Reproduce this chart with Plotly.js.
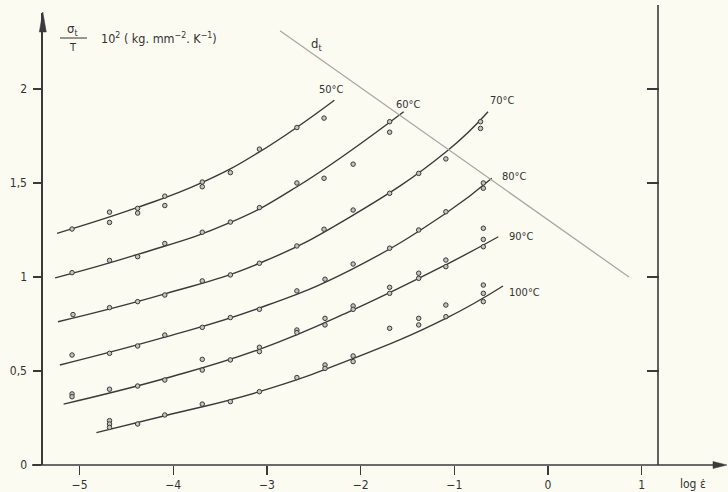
<!DOCTYPE html>
<html>
<head>
<meta charset="utf-8">
<script src="https://cdn.plot.ly/plotly-3.0.1.min.js"></script>
<style>
html,body{margin:0;padding:0;background:#fbfbf1;}
#chart{width:728px;height:492px;}
</style>
</head>
<body>
<div id="chart"></div>
<script>
// measured points (log strain rate, sigma_t/T *100)
const t50x = [-5.08,-4.68,-4.68,-4.38,-4.38,-4.09,-4.09,-3.69,-3.69,-3.39,-3.08,-2.68,-2.39];
const t50y = [1.255,1.345,1.29,1.365,1.34,1.43,1.38,1.505,1.48,1.555,1.68,1.795,1.845];
const t60x = [-5.08,-4.68,-4.38,-4.09,-3.69,-3.39,-3.08,-2.68,-2.39,-2.08,-1.69,-1.69];
const t60y = [1.023,1.088,1.108,1.178,1.238,1.292,1.369,1.50,1.525,1.60,1.826,1.77];
const t70x = [-5.07,-4.68,-4.38,-4.09,-3.69,-3.39,-3.08,-2.68,-2.39,-2.08,-1.69,-1.38,-1.09,-0.72,-0.72];
const t70y = [0.80,0.837,0.869,0.904,0.979,1.011,1.073,1.165,1.254,1.356,1.445,1.551,1.628,1.826,1.79];
const t80x = [-5.08,-4.68,-4.38,-4.09,-3.69,-3.39,-3.08,-2.68,-2.38,-2.08,-1.69,-1.38,-1.09,-0.69,-0.69];
const t80y = [0.585,0.594,0.633,0.691,0.732,0.784,0.828,0.926,0.988,1.069,1.153,1.25,1.347,1.472,1.50];
const t90x = [-5.08,-5.08,-4.68,-4.38,-4.09,-3.69,-3.69,-3.39,-3.08,-3.08,-2.68,-2.68,-2.38,-2.38,-2.08,-2.08,-1.69,-1.69,-1.38,-1.38,-1.09,-1.09,-0.69,-0.69,-0.69];
const t90y = [0.378,0.363,0.403,0.42,0.452,0.562,0.505,0.559,0.626,0.603,0.718,0.704,0.78,0.745,0.846,0.828,0.945,0.913,1.02,0.993,1.09,1.055,1.259,1.20,1.161];
const t100x = [-4.68,-4.68,-4.68,-4.38,-4.09,-3.69,-3.39,-3.08,-2.68,-2.38,-2.38,-2.08,-2.08,-1.69,-1.38,-1.38,-1.09,-1.09,-0.69,-0.69,-0.69];
const t100y = [0.236,0.218,0.20,0.218,0.266,0.324,0.337,0.39,0.465,0.532,0.514,0.58,0.55,0.727,0.78,0.745,0.851,0.789,0.957,0.913,0.869];

// fitted curves as drawn
const c50x = [-5.24,-4.38,-3.70,-3.08,-2.28];
const c50y = [1.232,1.37,1.50,1.665,1.94];
const c60x = [-5.26,-4.38,-3.39,-2.68,-1.54];
const c60y = [0.995,1.12,1.29,1.48,1.879];
const c70x = [-5.23,-4.09,-3.08,-2.11,-1.09,-0.64];
const c70y = [0.762,0.91,1.073,1.32,1.665,1.879];
const c80x = [-5.21,-4.09,-3.08,-2.11,-1.09,-0.60];
const c80y = [0.532,0.68,0.835,1.037,1.339,1.525];
const c90x = [-5.17,-4.09,-3.08,-2.08,-1.09,-0.53];
const c90y = [0.324,0.46,0.615,0.825,1.065,1.214];
const c100x = [-4.82,-4.09,-3.08,-2.11,-1.09,-0.48];
const c100y = [0.172,0.262,0.39,0.56,0.78,0.952];

// d_t limit line
const dtX = [-2.86, 0.864];
const dtY = [2.31, 1.0];

const curveLabels = ['50°C','60°C','70°C','80°C','90°C','100°C'];
const labelX = [-2.465,-1.644,-0.64,-0.512,-0.438,-0.438];
const labelY = [1.995,1.915,1.936,1.537,1.213,0.92];

const xTickVals = [-5,-4,-3,-2,-1,0,1];
const xTickText = ['−5','−4','−3','−2','−1','0','1'];
const yTickVals = [0,0.5,1,1.5,2];
const yTickText = ['0','0,5','1','1,5','2'];

const INK = '#3a3a3a';
const FONT = 'DejaVu Sans Condensed, DejaVu Sans, sans-serif';

const curves = [[c50x,c50y],[c60x,c60y],[c70x,c70y],[c80x,c80y],[c90x,c90y],[c100x,c100y]];
const pts = [[t50x,t50y],[t60x,t60y],[t70x,t70y],[t80x,t80y],[t90x,t90y],[t100x,t100y]];

const traces = [];
curves.forEach((c,i)=>{
  traces.push({x:c[0], y:c[1], mode:'lines', type:'scatter', name:curveLabels[i],
    line:{color:INK, width:1.4, shape:'spline', smoothing:1.3}, hoverinfo:'skip', showlegend:false});
});
pts.forEach((p,i)=>{
  traces.push({x:p[0], y:p[1], mode:'markers', type:'scatter', name:curveLabels[i]+' data',
    marker:{symbol:'circle', size:4.5, color:'#c4c4bc', line:{color:'#3a3a3a', width:1}}, showlegend:false});
});
traces.push({x:dtX, y:dtY, mode:'lines', type:'scatter', name:'d_t',
  line:{color:'#a9a9a3', width:1.3}, showlegend:false, hoverinfo:'skip'});
// invisible trace anchoring right axis
traces.push({x:[0], y:[0], yaxis:'y2', mode:'markers', marker:{opacity:0}, showlegend:false, hoverinfo:'skip'});

// pixel helpers for paper coords (plot area 43..659 x, 13..465 y)
const L=43, R=659, T=13, B=465;
const px = v => (v-L)/(R-L);
const py = v => (B-v)/(B-T);

const annotations = curveLabels.map((t,i)=>({
  x:labelX[i], y:labelY[i], xref:'x', yref:'y', text:t, showarrow:false,
  xanchor:'left', yanchor:'middle', font:{family:FONT, size:11, color:'#333'}
}));
annotations.push({x:-2.55, y:2.234, xref:'x', yref:'y', text:'d<sub>t</sub>', showarrow:false,
  xanchor:'left', yanchor:'middle', font:{family:FONT, size:13, color:'#333'}});
annotations.push({x:px(72.5), y:py(29), xref:'paper', yref:'paper', text:'σ<sub>t</sub>', showarrow:false,
  xanchor:'center', yanchor:'middle', font:{family:FONT, size:13, color:'#333'}});
annotations.push({x:px(73), y:py(48), xref:'paper', yref:'paper', text:'T', showarrow:false,
  xanchor:'center', yanchor:'middle', font:{family:FONT, size:11, color:'#333'}});
annotations.push({x:px(99), y:py(38), xref:'paper', yref:'paper',
  text:'10<sup>2</sup> ( kg. mm<sup>−2</sup>. K<sup>−1</sup>)', showarrow:false,
  xanchor:'left', yanchor:'middle', font:{family:FONT, size:12.5, color:'#333'}});
annotations.push({x:px(678), y:py(484), xref:'paper', yref:'paper', text:'log ε̇', showarrow:false,
  xanchor:'left', yanchor:'middle', font:{family:FONT, size:12, color:'#333'}});

const shapes = [
  // x axis line with arrow
  {type:'line', xref:'paper', yref:'paper', x0:px(32), x1:px(722), y0:0, y1:0, line:{color:INK, width:1.6}},
  {type:'path', xref:'paper', yref:'paper',
   path:`M ${px(727)} ${py(465)} L ${px(713)} ${py(461.5)} L ${px(713)} ${py(468.5)} Z`,
   fillcolor:INK, line:{color:INK, width:0.5}},
  // y axis arrowhead
  {type:'path', xref:'paper', yref:'paper',
   path:`M ${px(42.8)} ${py(12)} L ${px(39.3)} ${py(32)} L ${px(46.3)} ${py(32)} Z`,
   fillcolor:INK, line:{color:INK, width:0.5}},
  // right vertical line
  {type:'line', xref:'paper', yref:'paper', x0:px(658), x1:px(658), y0:0, y1:py(5), line:{color:INK, width:1.6}},
  // fraction bar
  {type:'line', xref:'paper', yref:'paper', x0:px(60), x1:px(87), y0:py(38), y1:py(38), line:{color:'#333', width:1}}
];

const layout = {
  width:728, height:492,
  margin:{l:L, r:728-R, t:T, b:492-B, pad:0},
  paper_bgcolor:'#fbfbf1', plot_bgcolor:'#fbfbf1',
  showlegend:false,
  font:{family:FONT, size:11, color:'#333'},
  xaxis:{range:[-5.39,1.185], showgrid:false, zeroline:false, showline:false,
    tickmode:'array', tickvals:xTickVals, ticktext:xTickText,
    ticks:'outside', ticklen:9, tickwidth:1.3, tickcolor:INK, ticklabelstandoff:0,
    tickfont:{family:FONT, size:12, color:'#333'}},
  yaxis:{range:[0,2.404], showgrid:false, zeroline:false, showline:true, linecolor:INK, linewidth:1.6,
    tickmode:'array', tickvals:yTickVals, ticktext:yTickText,
    ticks:'outside', ticklen:8, tickwidth:1.3, tickcolor:INK, ticklabelstandoff:4,
    tickfont:{family:FONT, size:12, color:'#333'}},
  yaxis2:{range:[0,2.404], overlaying:'y', side:'right', showgrid:false, zeroline:false, showline:false,
    tickmode:'array', tickvals:[0.5,1,1.5,2], ticks:'inside', ticklen:12, tickwidth:1.3, tickcolor:INK,
    showticklabels:false},
  annotations:annotations,
  shapes:shapes
};

Plotly.newPlot('chart', traces, layout, {staticPlot:true, displayModeBar:false});
</script>
</body>
</html>
